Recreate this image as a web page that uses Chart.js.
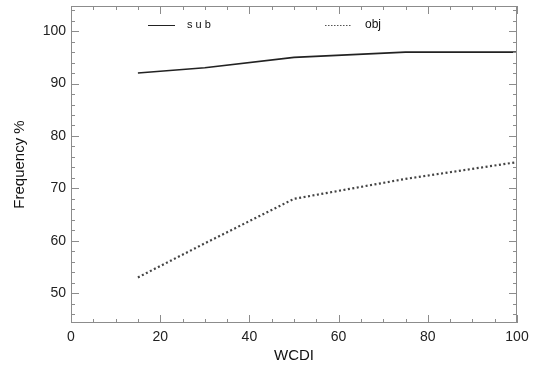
<!DOCTYPE html>
<html>
<head>
<meta charset="utf-8">
<script src="https://cdn.jsdelivr.net/npm/chart.js@4/dist/chart.umd.min.js"></script>
<style>
  html, body { margin: 0; padding: 0; background: #fff; }
  #wrap { width: 539px; height: 365px; }
</style>
</head>
<body>
<div id="wrap"><canvas id="c"></canvas></div>
<script>
const wcdi     = [15, 30, 50, 75, 100];
const subFreq  = [92, 93, 95, 96, 96];
const objFreq  = [53, 59.5, 68, 71.8, 75];
const xTicks   = [0, 20, 40, 60, 80, 100];
const yTicks   = [50, 60, 70, 80, 90, 100];

const axisGray = '#8c8c8c';
const font     = "'Liberation Sans', Arial, sans-serif";

// inward ticks on all four sides + the little in-plot legend
const boxPlugin = {
    id: 'box',
    afterDraw(chart) {
        const { ctx, chartArea: a, scales: { x, y } } = chart;
        ctx.save();
        ctx.strokeStyle = axisGray;
        ctx.lineWidth = 1;
        ctx.strokeRect(a.left + 0.5, a.top + 0.5, a.right - a.left - 1, a.bottom - a.top - 1);

        ctx.beginPath();
        for (let v = 0; v <= 100; v += 5) {
            const px = Math.round(x.getPixelForValue(v)) + 0.5;
            const len = v % 20 === 0 ? 8 : 4;
            ctx.moveTo(px, a.bottom); ctx.lineTo(px, a.bottom - len);
            ctx.moveTo(px, a.top);    ctx.lineTo(px, a.top + len);
        }
        for (let v = 46; v <= 104; v += 2) {
            const py = Math.round(y.getPixelForValue(v)) + 0.5;
            const len = v % 10 === 0 ? 8 : 4;
            ctx.moveTo(a.left, py);  ctx.lineTo(a.left + len, py);
            ctx.moveTo(a.right, py); ctx.lineTo(a.right - len, py);
        }
        ctx.stroke();

        // legend
        const ly = a.top + 19.5;
        ctx.strokeStyle = '#222';
        ctx.lineWidth = 1;
        ctx.beginPath();
        ctx.moveTo(a.left + 77, ly); ctx.lineTo(a.left + 104, ly);
        ctx.stroke();
        ctx.setLineDash([1.5, 1.5]);
        ctx.strokeStyle = '#555';
        ctx.beginPath();
        ctx.moveTo(a.left + 254, ly); ctx.lineTo(a.left + 280, ly);
        ctx.stroke();
        ctx.setLineDash([]);
        ctx.fillStyle = '#111';
        ctx.font = `11px ${font}`;
        ctx.textBaseline = 'middle';
        ctx.fillText('s u b', a.left + 116, ly - 1);
        ctx.font = `12px ${font}`;
        ctx.fillText('obj', a.left + 294, ly - 1);
        ctx.restore();
    }
};

new Chart(document.getElementById('c'), {
    type: 'line',
    data: {
        datasets: [
            {
                label: 'sub',
                data: wcdi.map((w, i) => ({ x: w, y: subFreq[i] })),
                borderColor: '#222',
                borderWidth: 1.6,
                pointRadius: 0,
                tension: 0,
            },
            {
                label: 'obj',
                data: wcdi.map((w, i) => ({ x: w, y: objFreq[i] })),
                borderColor: '#444',
                borderWidth: 2.2,
                borderDash: [2, 2.5],
                pointRadius: 0,
                tension: 0,
            }
        ]
    },
    options: {
        responsive: true,
        maintainAspectRatio: false,
        animation: false,
        layout: { padding: { top: 6, right: 22, left: 11, bottom: 0 } },
        plugins: { legend: { display: false }, tooltip: { enabled: false } },
        scales: {
            x: {
                type: 'linear',
                min: 0, max: 100,
                afterBuildTicks: s => { s.ticks = xTicks.map(v => ({ value: v })); },
                afterFit: s => { s.height = 42; s.paddingLeft = 0; s.paddingRight = 0; },
                grid: { display: false, drawTicks: false },
                border: { display: false },
                ticks: { color: '#222', font: { family: font, size: 14 }, padding: 6, maxRotation: 0 },
                title: { display: true, text: 'WCDI', color: '#111',
                         font: { family: font, size: 15 }, padding: { top: 0, bottom: 0 } }
            },
            y: {
                type: 'linear',
                min: 44.3, max: 104.8,
                afterBuildTicks: s => { s.ticks = yTicks.map(v => ({ value: v })); },
                afterFit: s => { s.width = 60; s.paddingTop = 0; s.paddingBottom = 0; },
                grid: { display: false, drawTicks: false },
                border: { display: false },
                ticks: { color: '#222', font: { family: font, size: 14 }, padding: 5 },
                title: { display: true, text: 'Frequency %', color: '#111',
                         font: { family: font, size: 15 }, padding: { top: 0, bottom: 0 } }
            }
        }
    },
    plugins: [boxPlugin]
});
</script>
</body>
</html>
